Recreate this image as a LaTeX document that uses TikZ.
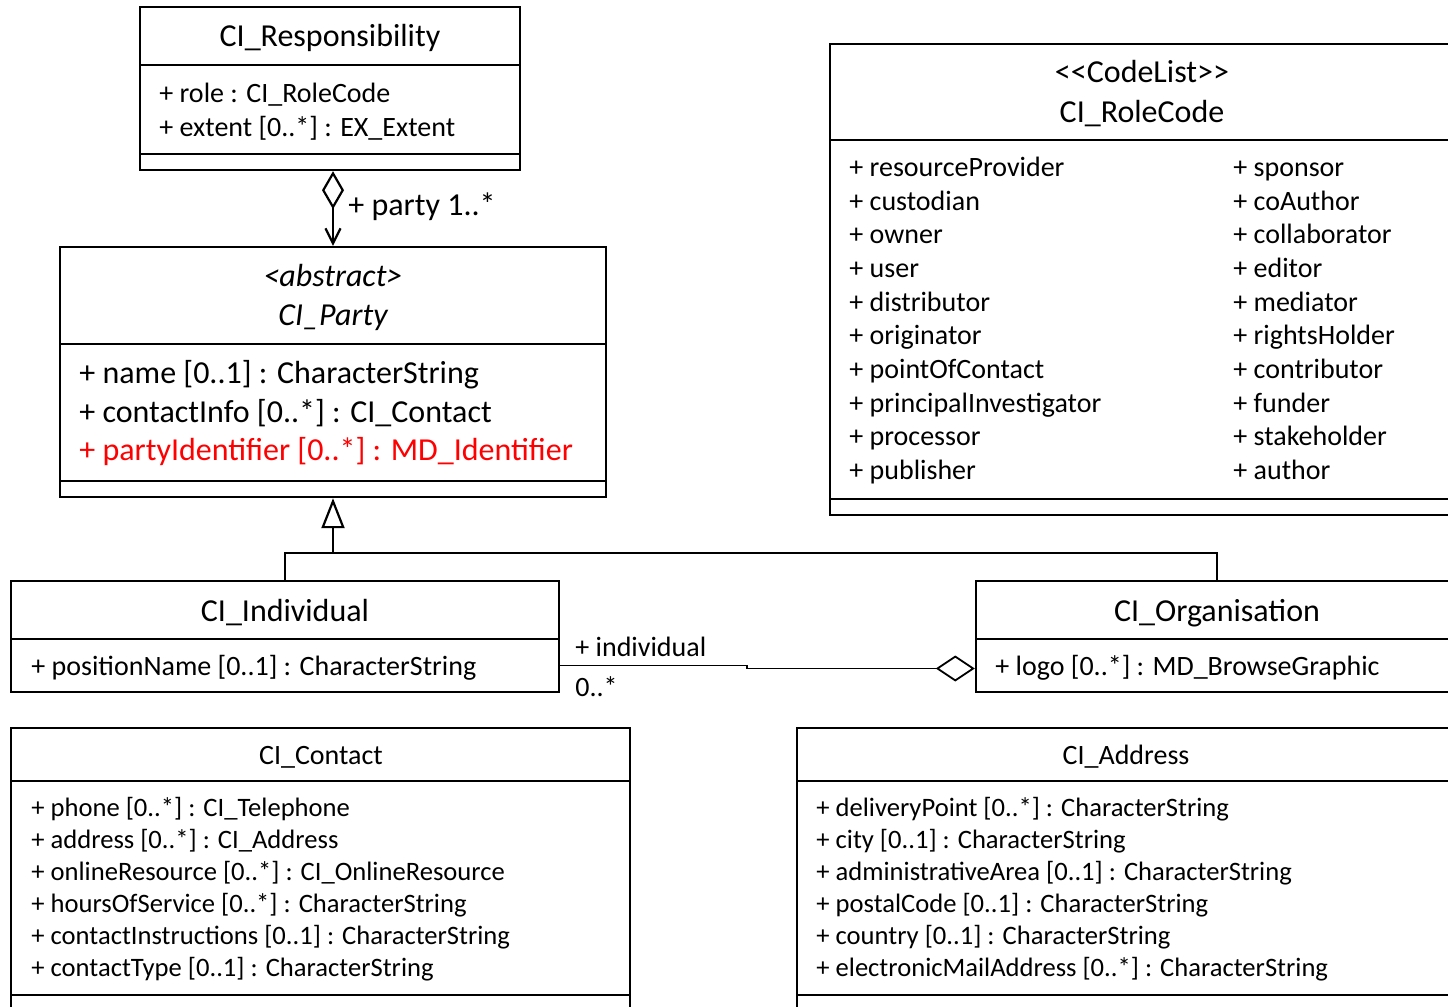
\documentclass[tikz,border=0pt]{standalone}
\usepackage{fontspec}
\setmainfont{Carlito}
\usetikzlibrary{arrows.meta,fit}

\tikzset{
  compart/.style={draw, line width=1.2pt, inner sep=0pt},
  attr/.style={anchor=base west, inner sep=0pt},
  title/.style={anchor=base, inner sep=0pt},
  conn/.style={line width=1.1pt},
}
\newcommand{\bigfont}{\fontsize{16}{19}\selectfont}
\newcommand{\midfont}{\fontsize{14}{17}\selectfont}
\newcommand{\smallfont}{\fontsize{13.3}{16}\selectfont}

\begin{document}
\begin{tikzpicture}[x=0.5pt,y=-0.5pt]
\useasboundingbox (0,0) rectangle (1448,1007);
\clip (0,0) rectangle (1448,1007);

% CI_Responsibility
\node[compart, fit={(140,7)(520,65)}] (respname) {};
\node[compart, fit={(140,65)(520,154)}] (respattr) {};
\node[compart, fit={(140,154)(520,170)}] (respops) {};
\node[title, font=\bigfont] (resptitle) at (330,46) {CI\_Responsibility};
\foreach \txt [count=\i] in {{+ role : CI\_RoleCode},{+ extent [0..*] : EX\_Extent}}
  \node[attr, font=\midfont] (resp-a\i) at (159,{102+34*(\i-1)}) {\txt};

% CI_Party
\node[compart, fit={(60,247)(606,344)}] (partyname) {};
\node[compart, fit={(60,344)(606,481)}] (partyattr) {};
\node[compart, fit={(60,481)(606,497)}] (partyops) {};
\node[title, font=\bigfont\itshape] (partystereo) at (333,286) {<abstract>};
\node[title, font=\bigfont\itshape] (partytitle) at (333,325) {CI\_Party};
\node[attr, font=\bigfont] (party-a1) at (79,383) {+ name [0..1] : CharacterString};
\node[attr, font=\bigfont] (party-a2) at (79,422) {+ contactInfo [0..*] : CI\_Contact};
\node[attr, font=\bigfont, text=red] (party-a3) at (79,460) {+ partyIdentifier [0..*] : MD\_Identifier};

% CI_RoleCode
\node[compart, fit={(830,44)(1454,140)}] (rolename) {};
\node[compart, fit={(830,140)(1454,499)}] (roleattr) {};
\node[compart, fit={(830,499)(1454,515)}] (roleops) {};
\node[title, font=\bigfont] (rolestereo) at (1142,82) {<{}<CodeList>{}>};
\node[title, font=\bigfont] (roletitle) at (1142,122) {CI\_RoleCode};
\foreach \txt [count=\i] in {resourceProvider,custodian,owner,user,distributor,originator,pointOfContact,principalInvestigator,processor,publisher}
  \node[attr, font=\midfont] (role-a\i) at (849,{176.5+33.67*(\i-1)}) {+ \txt};
\foreach \txt [count=\i] in {sponsor,coAuthor,collaborator,editor,mediator,rightsHolder,contributor,funder,stakeholder,author}
  \node[attr, font=\midfont] (role-b\i) at (1233,{176.5+33.67*(\i-1)}) {+ \txt};

% CI_Individual
\node[compart, fit={(11,581)(559,639)}] (indivname) {};
\node[compart, fit={(11,639)(559,692)}] (indivattr) {};
\node[title, font=\bigfont] (indivtitle) at (285,621) {CI\_Individual};
\node[attr, font=\midfont] (indiv-a1) at (31,675) {+ positionName [0..1] : CharacterString};

% CI_Organisation
\node[compart, fit={(976,581)(1458,639)}] (orgname) {};
\node[compart, fit={(976,639)(1458,692)}] (orgattr) {};
\node[title, font=\bigfont] (orgtitle) at (1217,621) {CI\_Organisation};
\node[attr, font=\midfont] (org-a1) at (995,675) {+ logo [0..*] : MD\_BrowseGraphic};

% CI_Contact
\node[compart, fit={(11,728)(630,781)}] (contname) {};
\node[compart, fit={(11,781)(630,995)}] (contattr) {};
\node[compart, fit={(11,995)(630,1030)}] (contops) {};
\node[title, font=\midfont] (conttitle) at (321,764) {CI\_Contact};
\foreach \txt [count=\i] in {{+ phone [0..*] : CI\_Telephone},{+ address [0..*] : CI\_Address},{+ onlineResource [0..*] : CI\_OnlineResource},{+ hoursOfService [0..*] : CharacterString},{+ contactInstructions [0..1] : CharacterString},{+ contactType [0..1] : CharacterString}}
  \node[attr, font=\smallfont] (cont-a\i) at (31,{816.5+32*(\i-1)}) {\txt};

% CI_Address
\node[compart, fit={(797,728)(1455,781)}] (addrname) {};
\node[compart, fit={(797,781)(1455,995)}] (addrattr) {};
\node[compart, fit={(797,995)(1455,1030)}] (addrops) {};
\node[title, font=\midfont] (addrtitle) at (1126,764) {CI\_Address};
\foreach \txt [count=\i] in {{+ deliveryPoint [0..*] : CharacterString},{+ city [0..1] : CharacterString},{+ administrativeArea [0..1] : CharacterString},{+ postalCode [0..1] : CharacterString},{+ country [0..1] : CharacterString},{+ electronicMailAddress [0..*] : CharacterString}}
  \node[attr, font=\smallfont] (addr-a\i) at (816,{816.5+32*(\i-1)}) {\txt};

% connectors
\draw[conn, {Diamond[open,length=19pt,width=11pt]}-{Straight Barb[length=7.5pt,width=7.5pt]}]
  (respops.south -| partyname.north) -- (partyname.north);
\node[attr, font=\bigfont] (partylabel) at (348,215) {+ party 1..*};

\coordinate (genjoin) at (333,553);
\draw[conn, -{Triangle[open,length=15pt,width=11.5pt]}] (genjoin) -- (partyops.south);
\draw[conn] (indivname.north) |- (genjoin) -| (orgname.north);

\draw[conn, line width=0.9pt, {Diamond[open,length=19.5pt,width=13pt]}-]
  ([yshift=-1.5pt]orgattr.west) -- ++(-228,0) |- (indivattr.east);
\node[attr, font=\midfont] (indivrole) at (575,656) {+ individual};
\node[attr, font=\midfont] (indivmult) at (575,696) {0..*};
\end{tikzpicture}
\end{document}
